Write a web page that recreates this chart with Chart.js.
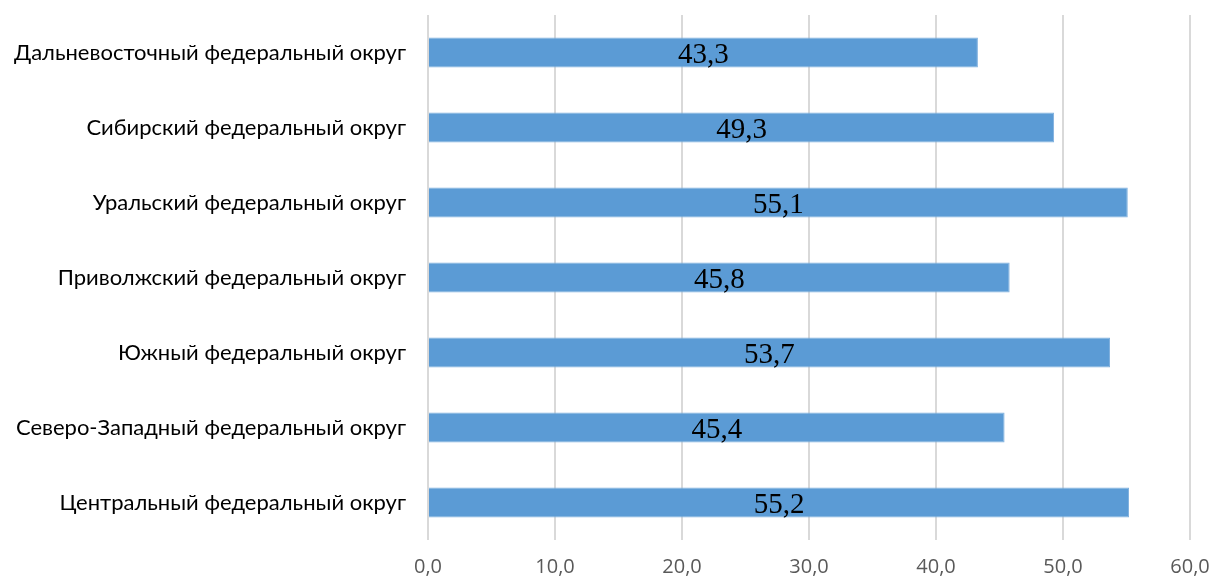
<!DOCTYPE html>
<html>
<head>
<meta charset="utf-8">
<script src="https://cdn.jsdelivr.net/npm/chart.js@4"></script>
<style>
  html, body { margin: 0; padding: 0; background: #fff; }
  #wrap { width: 1217px; height: 581px; }
</style>
</head>
<body>
<div id="wrap"><canvas id="chart" width="1217" height="581"></canvas></div>
<script>
const districts = [
  'Дальневосточный федеральный округ',
  'Сибирский федеральный округ',
  'Уральский федеральный округ',
  'Приволжский федеральный округ',
  'Южный федеральный округ',
  'Северо-Западный федеральный округ',
  'Центральный федеральный округ'
];
const values = [43.3, 49.3, 55.1, 45.8, 53.7, 45.4, 55.2];
const xTicks = [0, 10, 20, 30, 40, 50, 60];

const fmt = v => v.toFixed(1).replace('.', ',');

// value labels in the middle of each bar
const barLabels = {
  id: 'barLabels',
  afterDatasetsDraw(chart) {
    const ctx = chart.ctx;
    const meta = chart.getDatasetMeta(0);
    ctx.save();
    ctx.font = '29px "Liberation Serif", "Times New Roman", serif';
    ctx.fillStyle = '#000';
    ctx.textAlign = 'center';
    ctx.textBaseline = 'middle';
    meta.data.forEach((bar, i) => {
      const p = bar.getProps(['x', 'y', 'base'], true);
      ctx.fillText(fmt(values[i]), (p.x + p.base) / 2, p.y + 3);
    });
    ctx.restore();
  }
};

new Chart(document.getElementById('chart'), {
  type: 'bar',
  data: {
    labels: districts,
    datasets: [{
      data: values,
      backgroundColor: '#5B9BD5',
      borderColor: '#7FB0DE',
      borderWidth: 1,
      barPercentage: 0.4,
      categoryPercentage: 1
    }]
  },
  options: {
    indexAxis: 'y',
    responsive: false,
    animation: false,
    layout: { padding: { top: 15, right: 27, left: 0, bottom: 0 } },
    plugins: { legend: { display: false }, tooltip: { enabled: false } },
    scales: {
      x: {
        min: 0,
        max: 60,
        afterBuildTicks: s => { s.ticks = xTicks.map(v => ({ value: v })); },
        afterFit: s => { s.height = 41; s.paddingLeft = 0; s.paddingRight = 0; },
        grid: { color: '#D9D9D9', lineWidth: 2, drawTicks: false },
        border: { display: false },
        ticks: {
          color: '#595959',
          padding: 15,
          font: { family: '"Open Sans", "Noto Sans", sans-serif', size: 20 },
          callback: v => fmt(v)
        }
      },
      y: {
        afterFit: s => { s.width = 428; s.paddingTop = 0; s.paddingBottom = 0; },
        grid: { display: false, drawTicks: false },
        border: { display: false },
        ticks: {
          color: '#000',
          padding: 22,
          font: { family: 'Lato, "Open Sans", sans-serif', size: 22 }
        }
      }
    }
  },
  plugins: [barLabels]
});
</script>
</body>
</html>
